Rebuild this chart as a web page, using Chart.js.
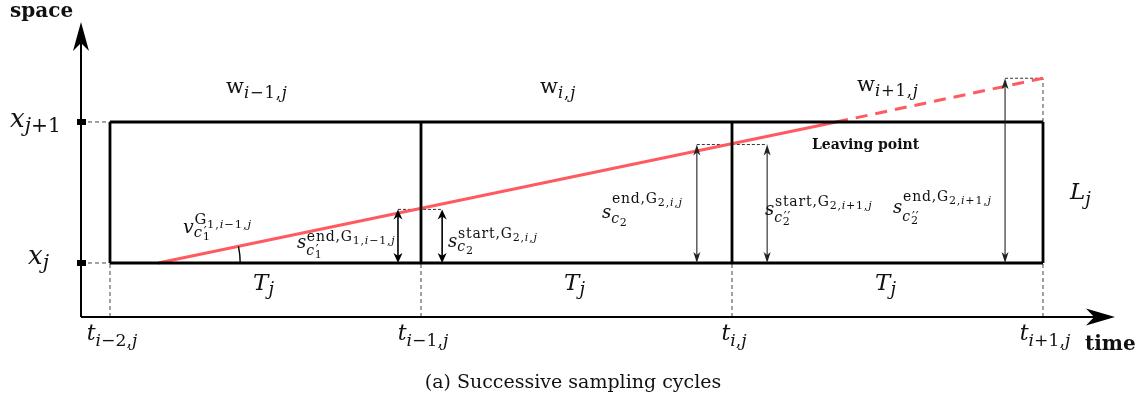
<!DOCTYPE html>
<html>
<head>
<meta charset="utf-8">
<script src="https://cdn.jsdelivr.net/npm/chart.js@4.4.1/dist/chart.umd.min.js"></script>
<style>
  html, body { margin: 0; padding: 0; background: #fff; }
  #wrap { width: 1148px; height: 396px; }
</style>
</head>
<body>
<div id="wrap"><canvas id="cycles-chart"></canvas></div>
<script>
"use strict";

// time axis, one unit per sampling period
var cycleTimes = [0, 1, 2, 3];
var timeLabels = ["t_{i-2,j}", "t_{i-1,j}", "t_{i,j}", "t_{i+1,j}"];
// space axis, bounds of the cell
var spaceLevels = [0, 1];
var spaceLabels = ["x_j", "x_{j+1}"];
var windowLabels = ["\\r{w}_{i-1,j}", "\\r{w}_{i,j}", "\\r{w}_{i+1,j}"];
var periodLabel = "T_j";
var cellLabel = "L_j";

// vehicle trajectory [time, space]
var trajectoryIn = [[0.155, 0], [2.335, 1]];
var trajectoryOut = [[2.335, 1], [3, 1.31]];

// measured distances: arrow at time t going up to level s
var arrowTimes = [0.926, 1.068, 1.887, 2.113, 2.878];
var arrowLevels = [0.38, 0.38, 0.84, 0.84, 1.31];
var distanceLabels = [
  "s_{c'_1}^{\\r{end,G}_{1,i-1,j}}",
  "s_{c_2}^{\\r{start,G}_{2,i,j}}",
  "s_{c_2}^{\\r{end,G}_{2,i,j}}",
  "s_{c''_2}^{\\r{start,G}_{2,i+1,j}}",
  "s_{c''_2}^{\\r{end,G}_{2,i+1,j}}"
];
var speedLabel = "v_{c'_1}^{\\r{G}_{1,i-1,j}}";
var leavingLabel = "Leaving point";
var captionText = "(a) Successive sampling cycles";

// view bounds
var xMin = -0.0932, xMax = 3.2315;
var yMin = -0.383, yMax = 1.709;

var RED = "#ff5a5f";
var FONT = '"DejaVu Serif", "Liberation Serif", serif';
var SCRIPT = 0.78;
var DEF = { sup: 0.4, sub: 0.22 };

// ---- tiny tex-ish text: x_{..}, ^{..}, primes, \r{roman}
function parseTex(s) {
  var i = 0;
  function isLetter(c) { return /[a-zA-Z]/.test(c); }
  function arg() {
    if (s[i] === "{") { i++; var g = list(false, "}"); i++; return g; }
    var c = s[i++];
    return [{ t: c, roman: !isLetter(c) }];
  }
  function list(roman, end) {
    var out = [];
    while (i < s.length && s[i] !== end) {
      var c = s[i];
      if (c === "_" || c === "^") {
        i++;
        out[out.length - 1][c === "_" ? "sub" : "sup"] = arg();
      } else if (c === "'") {
        var p = "";
        while (s[i] === "'") { p += "\u2032"; i++; }
        out[out.length - 1].prime = p;
      } else if (c === "\\" && s[i + 1] === "r") {
        i += 3;
        out.push({ group: list(true, "}") });
        i++;
      } else if (c === "{") {
        i++;
        out.push({ group: list(roman, "}") });
        i++;
      } else {
        out.push({ t: c, roman: roman || !isLetter(c) });
        i++;
      }
    }
    return out;
  }
  return list(false);
}

function setFont(ctx, size, roman) {
  ctx.font = (roman ? "" : "italic ") + size.toFixed(1) + "px " + FONT;
  ctx.letterSpacing = size < 17 ? "0.8px" : "0px";
}

function layoutTex(ctx, nodes, x, y, size, opt, draw) {
  var cx = x;
  nodes.forEach(function (n) {
    var w;
    if (n.group) {
      w = layoutTex(ctx, n.group, cx, y, size, DEF, draw);
    } else {
      setFont(ctx, size, n.roman);
      var txt = n.t === "-" ? "\u2212" : n.t;
      w = ctx.measureText(txt).width;
      if (draw) ctx.fillText(txt, cx, y);
    }
    cx += w;
    var wsup = 0, wsub = 0, ss = size * SCRIPT;
    if (n.prime) {
      setFont(ctx, size * 0.9, true);
      wsup = ctx.measureText(n.prime).width;
      if (draw) ctx.fillText(n.prime, cx + 1, y - size * 0.05);
    }
    if (n.sup) wsup = layoutTex(ctx, n.sup, cx + (n.roman ? 0 : size * 0.04), y - size * opt.sup, ss, DEF, draw);
    if (n.sub) wsub = layoutTex(ctx, n.sub, cx, y + size * opt.sub, ss, DEF, draw);
    cx += Math.max(wsup, wsub);
  });
  return cx - x;
}

function drawTex(ctx, src, x, y, size, opt, align) {
  var nodes = parseTex(src);
  opt = opt || DEF;
  if (align === "center") x -= layoutTex(ctx, nodes, 0, 0, size, opt, false) / 2;
  layoutTex(ctx, nodes, x, y, size, opt, true);
  ctx.letterSpacing = "0px";
}

// ---- line segments with gaps between them
function segments(pairs) {
  var pts = [];
  pairs.forEach(function (p, k) {
    if (k) pts.push({ x: p[0][0], y: null });
    pts.push({ x: p[0][0], y: p[0][1] }, { x: p[1][0], y: p[1][1] });
  });
  return pts;
}

var tFirst = cycleTimes[0], tLast = cycleTimes[cycleTimes.length - 1];
var sLow = spaceLevels[0], sHigh = spaceLevels[1];

var framePairs = [[[tFirst, sLow], [tLast, sLow]], [[tFirst, sHigh], [tLast, sHigh]]];
cycleTimes.forEach(function (t) { framePairs.push([[t, sLow], [t, sHigh]]); });

var guidePairs = [];
cycleTimes.forEach(function (t) { guidePairs.push([[t, yMin], [t, sLow]]); });
spaceLevels.forEach(function (s) { guidePairs.push([[xMin, s], [tFirst, s]]); });
guidePairs.push([[tLast, sHigh], [tLast, arrowLevels[4]]]);

var tiePairs = [
  [[arrowTimes[0], arrowLevels[0]], [arrowTimes[1], arrowLevels[1]]],
  [[arrowTimes[2], arrowLevels[2]], [arrowTimes[3], arrowLevels[3]]],
  [[arrowTimes[4], arrowLevels[4]], [tLast, arrowLevels[4]]]
];

function lineSet(pts, color, width, dash, order) {
  return {
    data: pts, showLine: true, pointRadius: 0, borderColor: color,
    borderWidth: width, borderDash: dash || [], order: order, clip: false
  };
}

// stealth-like arrow head, tip at (x,y), pointing along (dx,dy)
function head(ctx, x, y, dx, dy, len, wid) {
  var bx = x - dx * len, by = y - dy * len;
  var nx = x - dx * len * 0.72, ny = y - dy * len * 0.72;
  ctx.beginPath();
  ctx.moveTo(x, y);
  ctx.lineTo(bx - dy * wid / 2, by + dx * wid / 2);
  ctx.lineTo(nx, ny);
  ctx.lineTo(bx + dy * wid / 2, by - dx * wid / 2);
  ctx.closePath();
  ctx.fill();
}

var diagramPlugin = {
  id: "diagram",
  afterDatasetsDraw: function (chart) {
    var ctx = chart.ctx, area = chart.chartArea;
    var xs = chart.scales.x, ys = chart.scales.y;
    ctx.save();
    ctx.fillStyle = "#000";
    ctx.strokeStyle = "#000";
    // axes
    ctx.lineWidth = 2;
    ctx.beginPath();
    ctx.moveTo(area.left, area.bottom);
    ctx.lineTo(area.left, area.top + 12);
    ctx.moveTo(area.left, area.bottom);
    ctx.lineTo(area.right - 12, area.bottom);
    ctx.stroke();
    head(ctx, area.left, area.top, 0, -1, 29, 16);
    head(ctx, area.right, area.bottom, 1, 0, 29, 17);
    spaceLevels.forEach(function (s) {
      ctx.fillRect(area.left - 4, ys.getPixelForValue(s) - 3, 9, 6);
    });
    // distance arrows
    arrowTimes.forEach(function (t, k) {
      var x = xs.getPixelForValue(t);
      var y0 = ys.getPixelForValue(sLow), y1 = ys.getPixelForValue(arrowLevels[k]);
      var bold = k < 2;
      ctx.strokeStyle = bold ? "#000" : "#222";
      ctx.fillStyle = ctx.strokeStyle;
      ctx.lineWidth = bold ? 1.6 : 1.1;
      ctx.beginPath();
      ctx.moveTo(x, y0 - 4);
      ctx.lineTo(x, y1 + 4);
      ctx.stroke();
      head(ctx, x, y1, 0, -1, bold ? 10 : 11, bold ? 9 : 7);
      head(ctx, x, y0, 0, 1, bold ? 10 : 11, bold ? 9 : 7);
    });
    // angle of the trajectory
    var cx = xs.getPixelForValue(trajectoryIn[0][0]), cy = ys.getPixelForValue(trajectoryIn[0][1]);
    var ang = Math.atan2(ys.getPixelForValue(trajectoryIn[1][1]) - cy, xs.getPixelForValue(trajectoryIn[1][0]) - cx);
    ctx.strokeStyle = "#000";
    ctx.lineWidth = 1.4;
    ctx.beginPath();
    ctx.arc(cx, cy, 82, ang, 0);
    ctx.stroke();
    ctx.restore();
  },
  afterDraw: function (chart) {
    var ctx = chart.ctx, area = chart.chartArea;
    var xs = chart.scales.x, ys = chart.scales.y;
    function px(t) { return xs.getPixelForValue(t); }
    function py(s) { return ys.getPixelForValue(s); }
    ctx.save();
    ctx.fillStyle = "#111";
    ctx.textAlign = "left";
    ctx.textBaseline = "alphabetic";

    ctx.font = "bold 20px " + FONT;
    ctx.fillText("space", area.left - 71, area.top - 5);
    ctx.fillText("time", area.right - 30, area.bottom + 33);

    timeLabels.forEach(function (lbl, k) {
      drawTex(ctx, lbl, px(cycleTimes[k]) + 2, area.bottom + 23, 22, { sup: 0.4, sub: 0.25 }, "center");
    });
    var spaceLeft = [-53, -71], spaceDy = [1, 5];
    spaceLabels.forEach(function (lbl, k) {
      drawTex(ctx, lbl, area.left + spaceLeft[k], py(spaceLevels[k]) + spaceDy[k], 26, { sup: 0.4, sub: 0.2 });
    });
    var winAt = [0.373, 1.383, 2.402], winY = [1.206, 1.206, 1.22];
    windowLabels.forEach(function (lbl, k) {
      drawTex(ctx, lbl, px(winAt[k]), py(winY[k]), 21, { sup: 0.4, sub: 0.22 });
    });
    for (var k = 0; k < cycleTimes.length - 1; k++) {
      drawTex(ctx, periodLabel, px((cycleTimes[k] + cycleTimes[k + 1]) / 2) - 2, py(sLow) + 27, 23, { sup: 0.4, sub: 0.22 }, "center");
    }
    drawTex(ctx, cellLabel, px(tLast) + 27, py((sLow + sHigh) / 2) + 7, 23, { sup: 0.4, sub: 0.22 });

    var distAt = [[0.601, 0.106], [1.087, 0.113], [1.582, 0.319], [2.106, 0.34], [2.518, 0.355]];
    var distOpt = [
      { sup: 0.38, sub: 0.36 }, { sup: 0.52, sub: 0.2 }, { sup: 0.84, sub: 0.26 },
      { sup: 0.53, sub: 0.37 }, { sup: 0.68, sub: 0.47 }
    ];
    distanceLabels.forEach(function (lbl, k) {
      drawTex(ctx, lbl, px(distAt[k][0]), py(distAt[k][1]), 18, distOpt[k]);
    });
    drawTex(ctx, speedLabel, px(0.2347), py(0.2128), 19, { sup: 0.45, sub: 0.22 });

    ctx.fillStyle = "#111";
    ctx.font = "bold 14px " + FONT;
    ctx.fillText(leavingLabel, px(2.257), py(0.809));

    ctx.font = "19px " + FONT;
    ctx.textAlign = "center";
    ctx.fillText(captionText, chart.width / 2 - 1, 388);
    ctx.restore();
  }
};

var ctx1 = document.getElementById("cycles-chart").getContext("2d");

var cyclesChart = new Chart(ctx1, {
  type: "scatter",
  data: {
    datasets: [
      lineSet(segments(framePairs), "#000", 2.8, null, 1),
      lineSet(trajectoryIn.map(function (p) { return { x: p[0], y: p[1] }; }), RED, 3, null, 2),
      lineSet(trajectoryOut.map(function (p) { return { x: p[0], y: p[1] }; }), RED, 3, [12, 8], 2),
      lineSet(segments(guidePairs), "#444", 1, [4, 3], 3),
      lineSet(segments(tiePairs), "#333", 1, [3, 2], 3)
    ]
  },
  options: {
    responsive: true,
    maintainAspectRatio: false,
    animation: false,
    layout: { padding: { left: 81, right: 33, top: 22, bottom: 79 } },
    scales: {
      x: { type: "linear", display: false, min: xMin, max: xMax },
      y: { type: "linear", display: false, min: yMin, max: yMax }
    },
    plugins: {
      legend: { display: false },
      tooltip: { enabled: false }
    }
  },
  plugins: [diagramPlugin]
});
</script>
</body>
</html>
